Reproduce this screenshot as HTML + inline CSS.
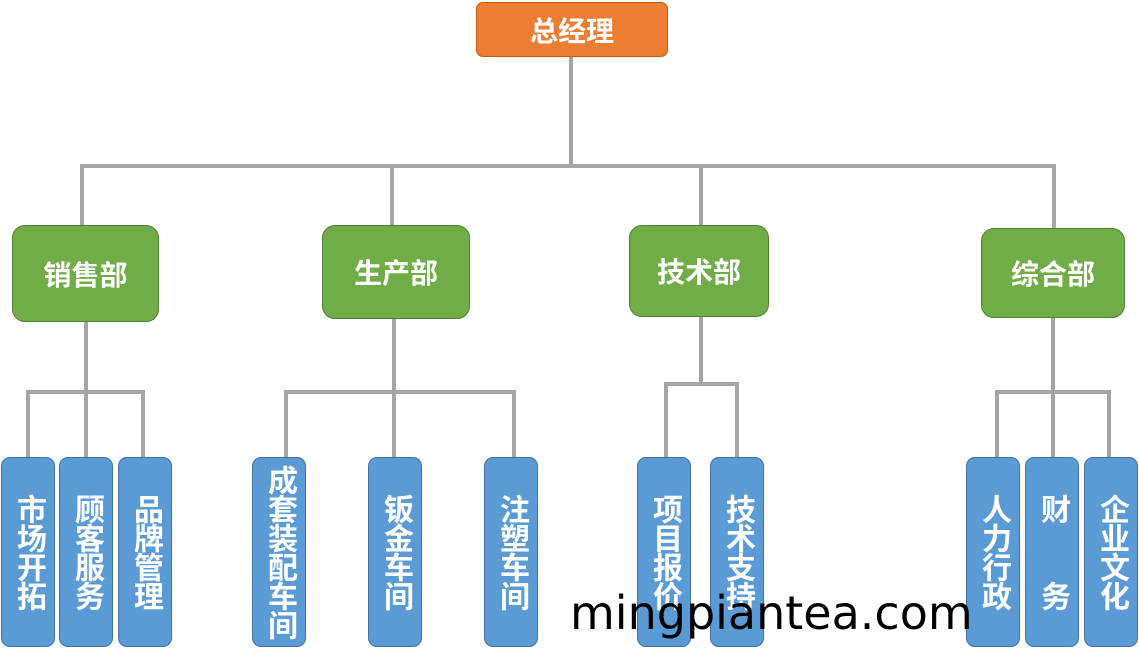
<!DOCTYPE html>
<html><head><meta charset="utf-8"><style>
body{margin:0;width:1139px;height:660px;background:#fff;position:relative;overflow:hidden;font-family:"Liberation Sans","Noto Sans CJK SC",sans-serif}
.l{position:absolute;background:#a5a5a5}
.b{position:absolute;box-sizing:border-box;color:#fff;font-weight:bold;display:flex;align-items:center;justify-content:center}
.o{background:#ed7d31;border:1px solid #c55a11;border-radius:7px;font-size:28px}
.g{background:#70ad47;border:1px solid #507e32;border-radius:13px;font-size:28px}
.v{background:#5b9bd5;border:1px solid #41719c;border-radius:9px;font-size:30px;line-height:30px;width:54px;top:457px;height:190px;text-align:center;writing-mode:vertical-rl;text-orientation:upright;font-weight:bold;letter-spacing:-1px}
.wm{position:absolute;left:570px;top:586px;font-family:"DejaVu Sans",sans-serif;font-size:46px;color:#000;line-height:54px}
</style></head><body>
<div class="l" style="left:569px;top:57px;width:4px;height:111px"></div>
<div class="l" style="left:80px;top:164px;width:976px;height:4px"></div>
<div class="l" style="left:80px;top:164px;width:4px;height:62px"></div>
<div class="l" style="left:390px;top:164px;width:4px;height:62px"></div>
<div class="l" style="left:699px;top:164px;width:4px;height:62px"></div>
<div class="l" style="left:1052px;top:164px;width:4px;height:65px"></div>

<div class="l" style="left:84px;top:320px;width:4px;height:138px"></div>
<div class="l" style="left:26px;top:390px;width:119px;height:4px"></div>
<div class="l" style="left:26px;top:390px;width:4px;height:68px"></div>
<div class="l" style="left:141px;top:390px;width:4px;height:68px"></div>

<div class="l" style="left:392px;top:318px;width:4px;height:140px"></div>
<div class="l" style="left:284px;top:390px;width:232px;height:4px"></div>
<div class="l" style="left:284px;top:390px;width:4px;height:68px"></div>
<div class="l" style="left:512px;top:390px;width:4px;height:68px"></div>

<div class="l" style="left:699px;top:316px;width:4px;height:70px"></div>
<div class="l" style="left:664px;top:382px;width:75px;height:4px"></div>
<div class="l" style="left:664px;top:382px;width:4px;height:76px"></div>
<div class="l" style="left:735px;top:382px;width:4px;height:76px"></div>

<div class="l" style="left:1051px;top:316px;width:4px;height:142px"></div>
<div class="l" style="left:995px;top:390px;width:116px;height:4px"></div>
<div class="l" style="left:995px;top:390px;width:4px;height:68px"></div>
<div class="l" style="left:1107px;top:390px;width:4px;height:68px"></div>

<div class="b o" style="left:476px;top:2px;width:192px;height:55px">总经理</div>
<div class="b g" style="left:12px;top:225px;width:147px;height:97px">销售部</div>
<div class="b g" style="left:322px;top:225px;width:148px;height:94px">生产部</div>
<div class="b g" style="left:629px;top:225px;width:140px;height:92px">技术部</div>
<div class="b g" style="left:981px;top:228px;width:144px;height:90px">综合部</div>

<div class="b v" style="left:1px">市场开拓</div>
<div class="b v" style="left:59px">顾客服务</div>
<div class="b v" style="left:118px">品牌管理</div>
<div class="b v" style="left:252px">成套装配车间</div>
<div class="b v" style="left:368px">钣金车间</div>
<div class="b v" style="left:484px">注塑车间</div>
<div class="b v" style="left:637px">项目报价</div>
<div class="b v" style="left:710px">技术支持</div>
<div class="b v" style="left:966px">人力行政</div>
<div class="b v" style="left:1025px">财　　务</div>
<div class="b v" style="left:1084px">企业文化</div>

<div class="wm">mingpiantea.com</div>
</body></html>
